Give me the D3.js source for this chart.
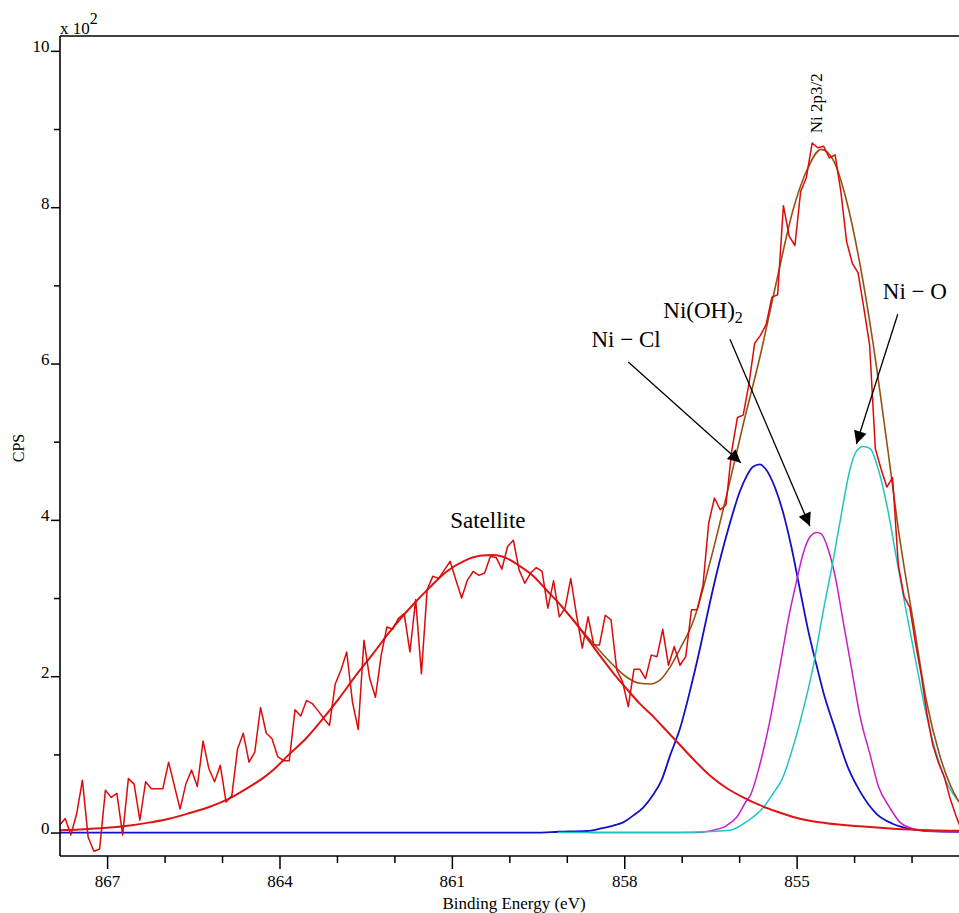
<!DOCTYPE html>
<html><head><meta charset="utf-8">
<script src="https://cdn.jsdelivr.net/npm/d3@7"></script>
<style>body{margin:0;background:#fff}svg{display:block}</style>
</head><body>
<svg id="chart" width="959" height="913"></svg>
<script>
// ---------- DATA ----------
// Raw spectrum (CPS), uniform 0.1 eV steps starting at rawStartBE (descending BE)
const rawStartBE = 867.83;
const rawStepBE = 0.1;
const rawCPS = [9,18,-3,24,67,-6,-24,-21,54,45,50,-3,69,62,16,65,56,56,56,90,
  60,30,62,80,59,117,82,65,86,39,47,107,127,90,103,160,127,120,97,92,
  92,157,149,169,165,156,146,137,190,208,231,167,132,246,197,173,227,263,260,274,
  280,231,298,203,311,328,325,336,347,323,300,323,334,329,332,353,352,337,366,374,
  336,319,332,339,334,287,322,276,287,325,278,236,276,240,240,278,272,208,193,161,
  209,209,197,227,225,260,214,238,214,225,285,285,316,396,428,413,419,488,531,534,
  574,626,636,650,685,688,802,763,751,820,838,882,876,878,863,867,820,756,728,716,
  671,624,491,465,442,454,342,302,288,242,201,151,112,89,71,44,22,3];

// Satellite fit
const satBE  = [867.85,867.47,867.01,866.60,866.25,865.90,865.56,865.21,864.86,864.51,864.30,864.11,863.82,863.53,863.24,862.95,862.66,862.37,862.08,861.90,861.67,861.38,861.09,860.80,860.51,860.28,860.05,859.82,859.58,859.35,859.12,858.89,858.65,858.42,858.19,857.96,857.73,857.49,857.26,857.03,856.80,856.51,856.22,855.93,855.64,855.35,855.06,854.77,854.48,853.90,853.32,852.68,852.00];
const satCPS = [3,4,6,9,13,18,25,33,44,59,69,80,101,121,146,173,202,229,257,273,292,314,334,347,354,355,351,341,328,310,292,272,249,226,204,184,165,148,130,112,94,73,57,45,35,27,20,15,12,8,5,3,2];

// Ni-Cl component (blue)
const clBE  = [867.85,859.50,859.15,858.65,858.42,858.19,858.02,857.84,857.67,857.50,857.35,857.20,857.03,856.86,856.68,856.51,856.33,856.16,855.99,855.87,855.76,855.64,855.55,855.38,855.23,855.09,854.94,854.80,854.65,854.51,854.36,854.10,853.90,853.61,853.32,852.97,852.74,852.18,852.00];
const clCPS = [0,0,1,2,5,9,13,22,32,48,67,99,133,180,236,294,350,396,436,456,468,471,466,442,408,365,310,259,213,173,139,82,53,24,11,4,2,1,1];

// Ni(OH)2 component (magenta)
const ohBE  = [858.60,856.80,856.51,856.45,856.22,856.04,855.87,855.81,855.64,855.46,855.29,855.12,855.00,854.89,854.77,854.65,854.57,854.45,854.33,854.19,854.04,853.90,853.72,853.58,853.38,853.20,852.97,852.74,852.18,852.00];
const ohCPS = [0,0,2,3,9,20,41,47,87,145,213,282,322,356,378,384,382,362,328,270,208,150,99,60,32,13,5,2,1,1];

// Ni-O component (cyan)
const oBE  = [859.15,857.26,856.80,856.16,855.87,855.58,855.41,855.26,855.06,854.89,854.71,854.54,854.36,854.22,854.07,853.96,853.84,853.72,853.58,853.43,853.26,853.09,852.91,852.74,852.56,852.39,852.18,852.00];
const oCPS = [0,0,0.5,3,14,32,50,67,110,156,213,282,350,408,465,488,494,491,465,419,350,282,213,150,99,64,40,25];

// Envelope (brown)
const envBE  = [859.12,858.89,858.65,858.48,858.19,857.96,857.73,857.55,857.38,857.20,857.03,856.80,856.51,856.22,855.93,855.64,855.35,855.06,854.83,854.57,854.36,854.13,853.90,853.67,853.43,853.20,852.97,852.74,852.51,852.18,852.00];
const envCPS = [292,272,251,237,214,199,191,190,195,212,235,270,345,431,522,608,705,797,846,874,860,808,728,626,499,373,270,168,99,40,25];

// Axis ticks
const xMajor = [867,864,861,858,855];
const xMinor = [866,865,863,862,860,859,857,856,854,853];
const yMajor = [0,200,400,600,800,1000];
const yMajorLabels = ["0","2","4","6","8","10"];
const yMinor = [100,300,500,700,900];

// Annotations: label anchor and arrow (from -> to) in data units
const annotations = [
  {label:"Ni − Cl", tBE:858.57, tCPS:621, fBE:857.93, fCPS:602, aBE:855.97, aCPS:473},
  {label:"Ni(OH)", sub:"2", tBE:857.32, tCPS:658, fBE:856.16, fCPS:631, aBE:854.77, aCPS:392},
  {label:"Ni − O", tBE:853.50, tCPS:683, fBE:853.24, fCPS:663, aBE:853.96, aCPS:497}
];

// ---------- CHART ----------
const W = 959, H = 913;
const L = 60, T = 36, B = 856;
const serif = "'Liberation Serif','Times New Roman',serif";
const svg = d3.select("#chart");
const x = d3.scaleLinear().domain([867.82, 852.0]).range([L, 969]);
const y = d3.scaleLinear().domain([-30, 1019]).range([B, T]);

const defs = svg.append("defs");
defs.append("clipPath").attr("id","plotclip").append("rect")
  .attr("x", L).attr("y", T).attr("width", W - L).attr("height", B - T);
defs.append("marker").attr("id","ah").attr("viewBox","0 0 10 10")
  .attr("refX",10).attr("refY",5).attr("markerWidth",17).attr("markerHeight",13)
  .attr("markerUnits","userSpaceOnUse").attr("orient","auto")
  .append("path").attr("d","M0,0L10,5L0,10Z").attr("fill","#000");

const plot = svg.append("g").attr("clip-path","url(#plotclip)");
const zip = (a,b) => a.map((v,i)=>[v,b[i]]);
const smooth = d3.line().x(d=>x(d[0])).y(d=>y(d[1])).curve(d3.curveMonotoneX);
const straight = d3.line().x(d=>x(d[0])).y(d=>y(d[1]));

function draw(data, color, w, gen){
  plot.append("path").datum(data).attr("d", gen).attr("fill","none")
    .attr("stroke", color).attr("stroke-width", w).attr("stroke-linejoin","round");
}
draw(zip(clBE, clCPS), "#1010c8", 1.8, smooth);
draw(zip(ohBE, ohCPS), "#c81ec8", 1.5, smooth);
draw(zip(oBE, oCPS), "#1ec4c8", 1.5, smooth);
draw(zip(envBE, envCPS), "#965014", 1.6, smooth);
draw(zip(satBE, satCPS), "#dc1414", 2, smooth);
const raw = rawCPS.map((v,i)=>[rawStartBE - i*rawStepBE, v]);
draw(raw, "#dc0a0a", 1.5, straight);

// spines
const spine = svg.append("g").attr("stroke","#000").attr("stroke-width",1.6);
spine.append("line").attr("x1",L).attr("y1",T).attr("x2",L).attr("y2",B);
spine.append("line").attr("x1",L).attr("y1",T).attr("x2",W).attr("y2",T);
spine.append("line").attr("x1",L).attr("y1",B).attr("x2",W).attr("y2",B);

// x axis
const gx = svg.append("g").attr("transform",`translate(0,${B})`)
  .call(d3.axisBottom(x).tickValues(xMajor).tickSize(13).tickPadding(6).tickFormat(d3.format("d")));
const gxm = svg.append("g").attr("transform",`translate(0,${B})`)
  .call(d3.axisBottom(x).tickValues(xMinor).tickSize(7).tickFormat(""));
// y axis
const gy = svg.append("g").attr("transform",`translate(${L},0)`)
  .call(d3.axisLeft(y).tickValues(yMajor).tickSize(9).tickPadding(1.5).tickFormat((d,i)=>yMajorLabels[i]));
const gym = svg.append("g").attr("transform",`translate(${L},0)`)
  .call(d3.axisLeft(y).tickValues(yMinor).tickSize(6).tickFormat(""));
[gx,gxm,gy,gym].forEach(g=>{
  g.select(".domain").remove();
  g.attr("font-family", serif).attr("font-size", 17);
  g.selectAll("line").attr("stroke","#000").attr("stroke-width",1.5);
  g.selectAll("text").attr("fill","#000");
});
gy.selectAll("text").attr("dy","0.06em");

// axis titles
const sc = svg.append("text").attr("x", L).attr("y", 34)
  .attr("font-family", serif).attr("font-size", 17).attr("fill","#000");
sc.append("tspan").text("x 10");
sc.append("tspan").attr("dy",-10).attr("font-size",16).text("2");

svg.append("text").attr("transform","translate(24,448) rotate(-90)")
  .attr("text-anchor","middle").attr("font-family", serif).attr("font-size",16)
  .attr("fill","#000").text("CPS");

svg.append("text").attr("x", 514).attr("y", 909).attr("text-anchor","middle")
  .attr("font-family", serif).attr("font-size",17).attr("fill","#000")
  .text("Binding Energy (eV)");

// peak labels
svg.append("text").attr("transform",`translate(${x(854.56)},${y(933)}) rotate(-90)`)
  .attr("text-anchor","middle").attr("font-family", serif).attr("font-size",17)
  .attr("fill","#000").text("Ni 2p3/2");

svg.append("text").attr("x", x(861.03)).attr("y", y(389))
  .attr("font-family", serif).attr("font-size",23).attr("fill","#000").text("Satellite");

annotations.forEach(a=>{
  const t = svg.append("text").attr("x", x(a.tBE)).attr("y", y(a.tCPS))
    .attr("font-family", serif).attr("font-size",23).attr("fill","#000");
  t.append("tspan").text(a.label);
  if (a.sub) t.append("tspan").attr("font-size",16).attr("dy",5).text(a.sub);
  svg.append("line").attr("x1", x(a.fBE)).attr("y1", y(a.fCPS))
    .attr("x2", x(a.aBE)).attr("y2", y(a.aCPS))
    .attr("stroke","#000").attr("stroke-width",1.3).attr("marker-end","url(#ah)");
});
</script>
</body></html>
